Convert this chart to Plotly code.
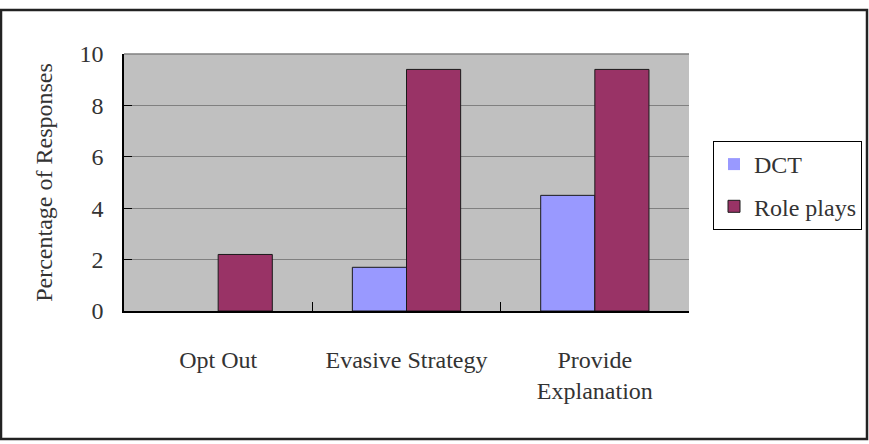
import plotly.graph_objects as go

categories = ["Opt Out", "Evasive Strategy", "Provide<br>Explanation"]
dct_values = [0, 1.7, 4.5]
role_play_values = [2.2, 9.4, 9.4]
y_ticks = [0, 2, 4, 6, 8, 10]

FONT = "Liberation Serif"
FS = 24

fig = go.Figure()
fig.add_trace(go.Bar(
    name="DCT", x=categories, y=dct_values,
    marker=dict(color="#9999FF",
                line=dict(color="#1a1a1a", width=[0 if v == 0 else 1 for v in dct_values])),
    legendgroup="a",
))
fig.add_trace(go.Bar(
    name="Role plays", x=categories, y=role_play_values,
    marker=dict(color="#993366", line=dict(color="#1a1a1a", width=1)),
    legendgroup="b",
))

L, R, T, B = 124, 180, 54, 133
W, H = 869, 444
pw, ph = W - L - R, H - T - B

fig.update_layout(
    width=W, height=H,
    margin=dict(l=L, r=R, t=T, b=B, pad=0, autoexpand=False),
    paper_bgcolor="white",
    plot_bgcolor="#C0C0C0",
    barmode="group",
    bargap=0.425,
    bargroupgap=0,
    font=dict(family=FONT, size=FS, color="#333333"),
    showlegend=True,
    legend=dict(
        x=(713 - L) / pw, y=(H - B - 141) / ph, xanchor="left", yanchor="top",
        bgcolor="white", bordercolor="#000000", borderwidth=1,
        font=dict(family=FONT, size=FS, color="#333333"),
        tracegroupgap=8,
    ),
    xaxis=dict(
        type="category",
        showgrid=False,
        showline=True, linecolor="#000000", linewidth=1.5,
        tickson="boundaries", ticks="inside", ticklen=9, tickcolor="#000000",
        ticklabelstandoff=26,
        tickfont=dict(family=FONT, size=FS, color="#333333"),
        range=[-0.5, 2.5],
    ),
    yaxis=dict(
        range=[0, 10],
        tickvals=y_ticks,
        showgrid=True, gridcolor="#808080", gridwidth=1,
        showline=True, linecolor="#000000", linewidth=1.5,
        ticks="inside", ticklen=8, tickcolor="#000000",
        ticklabelstandoff=14,
        zeroline=False,
        tickfont=dict(family=FONT, size=FS, color="#333333"),
        title=dict(text="Percentage of Responses", standoff=20,
                   font=dict(family=FONT, size=FS, color="#333333")),
    ),
    shapes=[
        dict(type="line", xref="paper", yref="paper", x0=0, x1=1, y0=1, y1=1,
             line=dict(color="#808080", width=1.5)),
        dict(type="rect", xref="paper", yref="paper",
             x0=(1 - L) / pw, x1=(867 - L) / pw,
             y0=(H - B - 439) / ph, y1=(H - B - 10) / ph,
             line=dict(color="#222222", width=2.5), fillcolor="rgba(0,0,0,0)", layer="below"),
    ],
)

fig.write_html("out.html")
